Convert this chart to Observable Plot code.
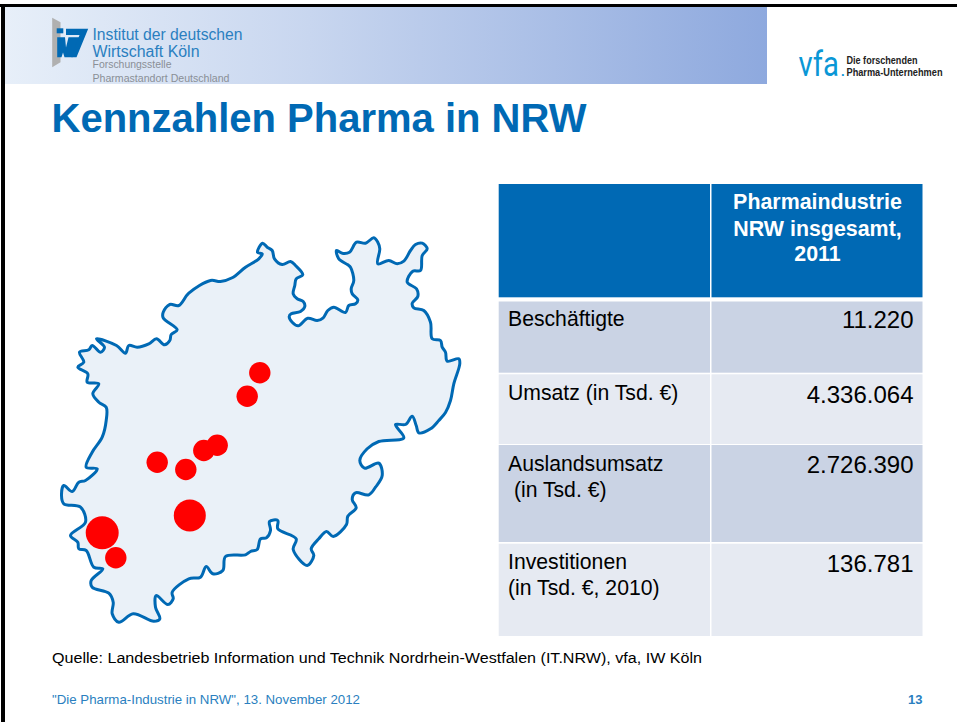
<!DOCTYPE html>
<html lang="de">
<head>
<meta charset="utf-8">
<title>Kennzahlen Pharma in NRW</title>
<script src="https://cdn.jsdelivr.net/npm/d3@7"></script>
<script src="https://cdn.jsdelivr.net/npm/@observablehq/plot@0.6"></script>
<style>
html,body{margin:0;padding:0;background:#fff}
svg{display:block}
</style>
</head>
<body>
<div id="chart"></div>
<script>
// ---------- content ----------
const slideTitle = "Kennzahlen Pharma in NRW";
const tableHeader = ["Pharmaindustrie", "NRW insgesamt,", "2011"];
const rowLabels = [
  ["Beschäftigte"],
  ["Umsatz (in Tsd. €)"],
  ["Auslandsumsatz", " (in Tsd. €)"],
  ["Investitionen", "(in Tsd. €, 2010)"]
];
const rowValues = ["11.220", "4.336.064", "2.726.390", "136.781"];
const sourceNote = "Quelle: Landesbetrieb Information und Technik Nordrhein-Westfalen (IT.NRW), vfa, IW Köln";
const footerText = "\"Die Pharma-Industrie in NRW\", 13. November 2012";
const pageNumber = "13";

// sites on the map, big circles are the larger sites
const siteX = [259.3, 246.7, 216.7, 203.3, 185.3, 156.7, 189.3, 101.7, 115.3];
const siteY = [372.3, 395.7, 444.7, 450, 469, 461.7, 515, 532.3, 557.3];
const siteR = [10.7, 10.7, 10.7, 10.7, 10.7, 10.7, 16, 16.5, 10.7];

// NRW outline
const nrwOutline = [
[262,242.7],[266.7,246.7],[271.7,250],[274,258.3],[281.7,264],[290,261],[295,265],[302.3,274.3],[295.7,278.3],[294.3,285],
[292.7,293.3],[296.7,298.3],[302.7,301],[304.3,306],[300,311],[290.7,313.3],[288.7,316],[291.7,321.7],[297.7,325.3],[307.3,317.7],
[316.7,320],[322.7,317.3],[327.3,310],[333.3,306.7],[345,312],[348.3,305],[355,303.3],[357.3,299.3],[351.7,293.3],[350.7,288.3],
[353.3,280],[350,266.7],[347.3,264.3],[338.3,258.3],[336,250],[341.7,252.7],[349,251.7],[356,241.7],[365,242.7],[373.3,237.3],
[377.3,241.7],[379.3,248.3],[377.3,263.3],[388.3,260],[396.7,263.3],[403.3,260.7],[410,250],[415,244],[421.7,242.7],[426.7,248.3],
[421.7,255],[420,270],[412.3,270.7],[406.7,281.7],[416,288.3],[417.3,296],[411.7,302.7],[413.3,307.3],[423.3,310],[430,321.7],
[431.7,338.3],[440,340],[441.7,346.7],[445,351.7],[446.7,360.7],[458.3,358.3],[459.3,363.3],[453.3,383.3],[450,400],[445,412],
[438.3,420],[430,428.3],[418.3,432.3],[415.7,425],[411.7,415.7],[405,424],[395,424],[403.3,437.3],[378.3,441],[366.7,448.3],
[359.3,460],[364,467.7],[378.3,462.7],[381.7,475],[375,486.7],[368.3,494.3],[355,492.3],[351.7,499],[355.7,507.3],[347.3,515.7],
[346,524],[332.7,536],[326,531],[318.3,538.3],[310.7,548.3],[313.3,555],[306.7,565],[292.7,549],[295.7,538.3],[277.3,528.3],
[277.3,520],[269,521],[270,530],[266,537.3],[260,538.3],[256.7,549],[250,551],[245,554.3],[225,556],[222.3,570],
[212.3,573.3],[205.7,566],[200,576.7],[188.3,578.3],[171.7,591.7],[172.7,598.3],[167.3,604],[155.7,595],[155,606.7],[159.3,618.3],
[153.3,620.7],[132.7,613.3],[118.3,621.7],[111.7,613.3],[112.7,601.7],[108.3,592.7],[91.7,586.7],[90.7,580],[102.3,568.3],[93.3,566.7],
[85.7,550],[78.3,548.3],[77.3,541.7],[70,535],[85,521.7],[80,506.7],[63.3,503.3],[61,495],[63.3,485],[71.7,491],
[78.3,481.7],[85,480],[96.7,468.3],[85.7,466.7],[91.7,451.7],[101.7,436.7],[105.7,420],[105.7,406.7],[98.3,401.7],[92.3,393.3],
[98.3,383.3],[86.7,381.7],[87.3,373.3],[77.3,366.7],[83.3,361.7],[79,351.7],[88.3,349.3],[91.7,345],[100,351.7],[104,346.7],
[96,338.3],[116,345],[125,352.7],[128.3,345],[136.7,346.7],[148.3,343.3],[156,338.3],[164,344.3],[169.3,340],[170.7,334],
[176.7,329.3],[162.7,317.3],[162.7,311.7],[169.3,304],[178.3,305],[188.3,292.7],[210,280],[220,281],[231.7,277.3],[245,266.7],
[258.3,258.3],[261.7,253.3],[257,252]
];

// ---------- layout (slide pixels) ----------
const colEdges = [[498.7, 710], [711.5, 922.5]];
const rowEdges = [[301.5, 372.7], [374.3, 444], [445, 542], [543.7, 636]];
const rowFills = ["#cad3e4", "#e6eaf2", "#cad3e4", "#e6eaf2"];
const headerBaselines = [208.5, 235, 260.5];
const labelBaselines = [[325], [399], [470, 496], [568.7, 594]];
const valueBaselines = [327.7, 402, 472.7, 571.7];

// widths of the condensed texts of the reference, applied after rendering
const textWidths = new Map([
  ["vfa", 40.5],
  ["Die forschenden", 71],
  ["Pharma-Unternehmen", 96],
  ["Institut der deutschen", 150],
  ["Wirtschaft Köln", 107],
  ["Forschungsstelle", 79],
  ["Pharmastandort Deutschland", 137],
  [sourceNote, 650],
  [footerText, 308]
]);

const BLUE = "#0069b4", LINK = "#2a7fc0", SANS = "Liberation Sans, Arial, sans-serif";

const label = (text, x, y, o = {}) => Plot.text([text], {
  x: [x], y: [y], text: d => d, lineAnchor: "bottom", textAnchor: "start",
  fontFamily: SANS, fill: "#000", ...o
});
const box = (x1, x2, y1, y2, fill) => Plot.rect([0], {x1: [x1], x2: [x2], y1: [y1], y2: [y2], fill});
const poly = (pts, fill) => Plot.line(pts, {x: d => d[0], y: d => d[1], fill, stroke: "none", curve: "linear-closed"});

// header gradient definition as a custom mark
const gradientDefs = () => {
  const defs = d3.create("svg:defs");
  const g = defs.append("linearGradient").attr("id", "hdr").attr("x1", 0).attr("x2", 1).attr("y1", 0).attr("y2", 0);
  [["0%", "#e7eff9"], ["40%", "#c8d6ef"], ["100%", "#8ea9de"]].forEach(([o, c]) =>
    g.append("stop").attr("offset", o).attr("stop-color", c));
  return defs.node();
};

const marks = [
  gradientDefs,
  // slide frame + header band
  box(5, 767, 7, 84, "url(#hdr)"),
  box(0, 957, 4, 7, "#000"),
  box(1, 5, 4, 722, "#000"),

  // IW logo
  poly([[51.7,17.3],[60,21.7],[60,61.7],[51.7,66.7]], "#b0b0b0"),
  box(56.7, 63.3, 28.3, 33.3, BLUE),
  poly([[56.7,36.7],[64.5,36.7],[65.5,47],[68,36.7],[79,36.7],[72,56.7],[64,56.7],[62.5,52],[61,56.7],[56.7,56.7]], BLUE),
  poly([[65.5,28.3],[87.7,28.3],[76,56.7],[71,56.7],[79,34.5],[65.5,34.5]], BLUE),

  label("Institut der deutschen", 92, 39, {fontSize: 16, fill: LINK}),
  label("Wirtschaft Köln", 92, 56, {fontSize: 16, fill: LINK}),
  label("Forschungsstelle", 92, 67.5, {fontSize: 10.2, fill: "#8a8f96"}),
  label("Pharmastandort Deutschland", 92, 81, {fontSize: 10.4, fill: "#8a8f96"}),

  // vfa logo
  label("vfa", 798, 75, {fontSize: 35, fontFamily: "Roboto, sans-serif", fill: "#0a97d6"}),
  label(".", 840.5, 75, {fontSize: 13, fontWeight: "bold", fill: "#0a97d6"}),
  label("Die forschenden", 846, 63, {fontSize: 10.5, fontWeight: "bold", fill: "#222"}),
  label("Pharma-Unternehmen", 846, 75, {fontSize: 10.5, fontWeight: "bold", fill: "#222"}),

  // title
  label(slideTitle, 51, 131, {fontSize: 40, fontWeight: "bold", fill: BLUE}),

  // map
  Plot.line(nrwOutline, {
    x: d => d[0], y: d => d[1], curve: "catmull-rom-closed",
    fill: "#eaf1f8", stroke: BLUE, strokeWidth: 3, strokeLinejoin: "round"
  }),
  Plot.dot(siteX.map((_, i) => i), {
    x: i => siteX[i], y: i => siteY[i], r: i => siteR[i], fill: "#ff0000", stroke: "none"
  }),

  // table: header cells
  ...colEdges.map(([a, b]) => box(a, b, 184, 297.3, BLUE)),
  ...tableHeader.map((t, i) => label(t, 817, headerBaselines[i], {
    fontSize: 21.4, fontWeight: "bold", fill: "#fff", textAnchor: "middle"
  })),

  // table: body cells
  ...rowEdges.flatMap(([y1, y2], i) => colEdges.map(([a, b]) => box(a, b, y1, y2, rowFills[i]))),
  ...rowLabels.flatMap((lines, i) => lines.map((t, j) => label(t, 507.5, labelBaselines[i][j], {fontSize: 21.2}))),
  ...rowValues.map((t, i) => label(t, 913, valueBaselines[i], {fontSize: 24, textAnchor: "end"})),

  // source and footer
  label(sourceNote, 51.5, 662, {fontSize: 15.4}),
  label(footerText, 51.5, 703, {fontSize: 13, fill: LINK}),
  label(pageNumber, 922, 703, {fontSize: 13, fontWeight: "bold", fill: LINK, textAnchor: "end"})
];

const chart = Plot.plot({
  width: 957, height: 722,
  margin: 0,
  x: {type: "linear", domain: [0, 957], range: [0, 957], axis: null},
  y: {type: "linear", domain: [0, 722], range: [0, 722], axis: null},
  r: {type: "identity"},
  style: {background: "transparent", overflow: "visible"},
  marks
});
d3.select(chart).selectAll("text").each(function () {
  const w = textWidths.get(this.textContent);
  if (w) { this.setAttribute("textLength", w); this.setAttribute("lengthAdjust", "spacingAndGlyphs"); }
});
document.getElementById("chart").append(chart);
</script>
</body>
</html>
